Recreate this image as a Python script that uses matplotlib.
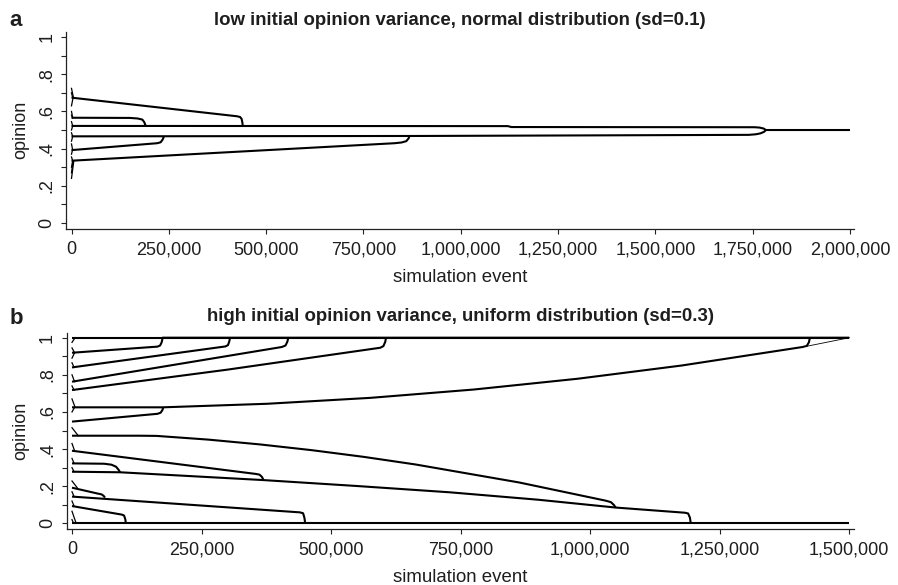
import matplotlib
matplotlib.use('Agg')
import matplotlib.pyplot as plt
from matplotlib.ticker import FuncFormatter, MultipleLocator

plt.rcParams['font.family'] = ['Liberation Sans', 'DejaVu Sans']

# panel a: opinion clusters over simulation events (normal start, sd=0.1)
a_events = [
    [0, 1121000, 1130000, 1755000, 1768000, 1778000, 1784000, 2000000],
    [0, 895000, 1740000, 1758000, 1770000, 1779000, 1784000],
    [0, 425000, 433000, 437000, 439000, 440000],
    [0, 150000, 170000, 182000, 187000, 190600],
    [0, 220000, 229000, 234000, 237600],
    [0, 830000, 848000, 860000, 866000, 868000],
]
a_opinion = [
    [0.522, 0.521, 0.516, 0.515, 0.513, 0.508, 0.500, 0.500],
    [0.466, 0.468, 0.474, 0.477, 0.482, 0.490, 0.500],
    [0.674, 0.574, 0.570, 0.560, 0.540, 0.522],
    [0.566, 0.565, 0.562, 0.556, 0.542, 0.522],
    [0.392, 0.429, 0.434, 0.448, 0.466],
    [0.335, 0.429, 0.433, 0.440, 0.455, 0.466],
]
# very early merges in panel a (start opinion -> cluster)
a_early_start = [0.724, 0.70, 0.63, 0.60, 0.58, 0.545, 0.50, 0.485, 0.44, 0.425, 0.37, 0.355, 0.30, 0.27, 0.24]
a_early_end = [0.674, 0.674, 0.674, 0.566, 0.566, 0.522, 0.522, 0.466, 0.466, 0.392, 0.392, 0.335, 0.335, 0.335, 0.335]
a_early_at = [5000, 3000, 4000, 3000, 2500, 3000, 3000, 3000, 3000, 3000, 2500, 3000, 3000, 4000, 6000]

# panel b: opinion clusters (uniform start, sd=0.3)
b_events = [
    [0, 1500000],
    [0, 165000, 170000, 173000, 175000, 1500000],
    [0, 296000, 301000, 303500, 305000],
    [0, 405000, 412000, 415500, 417500],
    [0, 300000, 595000, 601000, 604500, 606000],
    [0, 150000, 176000, 376000, 576000, 776000, 976000, 1176000, 1410000, 1418000, 1422000, 1424000],
    [0, 165000, 171000, 174500, 176000],
    [0, 130000, 163000, 263000, 363000, 463000, 563000, 663000, 863000, 1030000, 1040000, 1046000, 1049000],
    [0, 355000, 362000, 366500, 369000],
    [0, 92600, 369000, 550000, 729500, 900000, 1049000, 1183000, 1189000, 1192500, 1194000],
    [0, 62000, 76000, 85000, 90000, 92600],
    [0, 50000, 57000, 61000, 63700],
    [0, 440000, 446000, 448500, 450000],
    [0, 96000, 100500, 102800, 104000],
    [0, 1500000],
]
b_opinion = [
    [1.0, 1.0],
    [0.919, 0.952, 0.958, 0.975, 1.0, 1.0],
    [0.840, 0.953, 0.960, 0.980, 1.0],
    [0.763, 0.950, 0.958, 0.978, 1.0],
    [0.718, 0.828, 0.946, 0.955, 0.978, 1.0],
    [0.625, 0.625, 0.625, 0.644, 0.676, 0.721, 0.779, 0.850, 0.950, 0.956, 0.975, 1.0],
    [0.548, 0.590, 0.596, 0.610, 0.625],
    [0.472, 0.472, 0.471, 0.451, 0.425, 0.394, 0.358, 0.317, 0.220, 0.122, 0.114, 0.098, 0.085],
    [0.391, 0.266, 0.262, 0.250, 0.237],
    [0.278, 0.275, 0.233, 0.201, 0.167, 0.127, 0.085, 0.057, 0.053, 0.030, 0.0],
    [0.323, 0.321, 0.316, 0.305, 0.288, 0.276],
    [0.192, 0.160, 0.156, 0.148, 0.139],
    [0.144, 0.059, 0.054, 0.030, 0.0],
    [0.093, 0.047, 0.042, 0.022, 0.0],
    [0.0, 0.0],
]
# thin branch at the far right of panel b
b_thin_events = [1414500, 1500000]
b_thin_opinion = [0.952, 1.0]

b_early_start = [0.975, 0.945, 0.89, 0.865, 0.80, 0.74, 0.67, 0.60, 0.515, 0.43, 0.35, 0.30, 0.228, 0.17, 0.12, 0.065, 0.02]
b_early_end = [1.0, 0.919, 0.919, 0.840, 0.763, 0.718, 0.625, 0.625, 0.472, 0.391, 0.323, 0.278, 0.192, 0.144, 0.093, 0.0, 0.0]
b_early_at = [6000, 5000, 5000, 4000, 5000, 4000, 6000, 5000, 12000, 5000, 4000, 4000, 10000, 4000, 4000, 8000, 3000]

x_ticks_a = [0, 250000, 500000, 750000, 1000000, 1250000, 1500000, 1750000, 2000000]
x_ticks_b = [0, 250000, 500000, 750000, 1000000, 1250000, 1500000]
y_ticks = [0, 0.2, 0.4, 0.6, 0.8, 1.0]
y_labels = ['0', '.2', '.4', '.6', '.8', '1']

W, H = 898, 585
text_col = '#1e1e1e'
fig = plt.figure(figsize=(W / 100, H / 100), dpi=100)


def px_rect(left, top, right, bottom):
    return [left / W, 1 - bottom / H, (right - left) / W, (bottom - top) / H]


def style_axes(ax, xticks, xlim, ylim):
    for s in ['top', 'right']:
        ax.spines[s].set_visible(False)
    for s in ['left', 'bottom']:
        ax.spines[s].set_linewidth(0.9)
        ax.spines[s].set_color('#222222')
    ax.set_xlim(*xlim)
    ax.set_ylim(*ylim)
    ax.set_xticks(xticks)
    ax.xaxis.set_major_formatter(FuncFormatter(lambda v, p: '{:,.0f}'.format(v)))
    ax.set_yticks(y_ticks)
    ax.set_yticklabels(y_labels, rotation=90, va='center')
    ax.yaxis.set_minor_locator(MultipleLocator(0.1))
    ax.tick_params(axis='both', which='both', length=3.5, width=0.8, color='#222222',
                   labelsize=13, labelcolor=text_col)
    ax.tick_params(axis='x', pad=5.5)
    ax.tick_params(axis='y', pad=4)


def add_text(ax, title, title_y, letter, letter_y):
    ax.text(0.5, title_y, title, transform=ax.transAxes, ha='center', va='center',
            fontsize=13.4, fontweight='bold', color=text_col)
    ax.set_xlabel('simulation event', fontsize=13.4, color=text_col)
    ax.xaxis.set_label_coords(0.5, -0.25)
    ax.xaxis.label.set_va('center')
    ax.set_ylabel('opinion', fontsize=13, color=text_col)
    ax.yaxis.set_label_coords(-0.058, 0.5)
    ax.yaxis.label.set_va('center')
    fig.text(16 / W, 1 - letter_y / H, letter, ha='center', va='center',
             fontsize=16, fontweight='bold', color=text_col)


# panel a
ax1 = fig.add_axes(px_rect(66, 32, 854, 228.7))
for xs, ys in zip(a_events, a_opinion):
    ax1.plot(xs, ys, color='black', lw=1.5, solid_capstyle='butt', solid_joinstyle='round')
for y0, y1, xe in zip(a_early_start, a_early_end, a_early_at):
    ax1.plot([0, xe], [y0, y1], color='black', lw=0.9)
style_axes(ax1, x_ticks_a, (-14130, 2010276), (-0.0306, 1.027))
add_text(ax1, 'low initial opinion variance, normal distribution (sd=0.1)', 1.056, 'a', 20)

# panel b
ax2 = fig.add_axes(px_rect(66.5, 332.7, 854, 528.7))
for xs, ys in zip(b_events, b_opinion):
    ax2.plot(xs, ys, color='black', lw=1.5, solid_capstyle='butt', solid_joinstyle='round')
ax2.plot(b_thin_events, b_thin_opinion, color='black', lw=0.6)
for y0, y1, xe in zip(b_early_start, b_early_end, b_early_at):
    ax2.plot([0, xe], [y0, y1], color='black', lw=0.9)
style_axes(ax2, x_ticks_b, (-10614, 1509070), (-0.029, 1.027))
add_text(ax2, 'high initial opinion variance, uniform distribution (sd=0.3)', 1.085, 'b', 318)

fig.savefig('out.png', dpi=100)
